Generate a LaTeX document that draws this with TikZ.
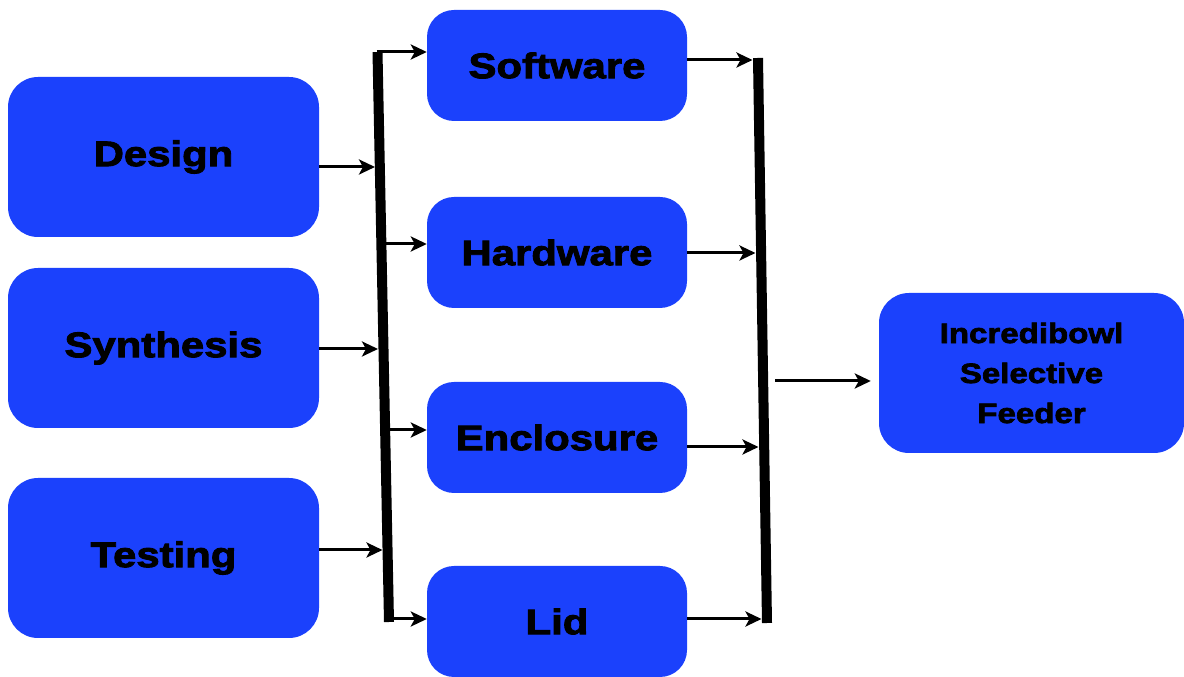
\documentclass[tikz,border=0pt]{standalone}
\usepackage{fontspec}
\setmainfont{Liberation Sans}
\newfontfamily\lblfont{Liberation Sans}[FakeStretch=1.18,BoldFeatures={FakeBold=2.5,FakeStretch=1.18}]
\usetikzlibrary{arrows.meta}
\definecolor{boxblue}{RGB}{27,65,252}
\tikzset{
  stage/.style={fill=boxblue, rounded corners=30, minimum width=311, minimum height=160,
    inner sep=0, font=\lblfont\bfseries\fontsize{35.5}{40}\selectfont},
  part/.style={fill=boxblue, rounded corners=27, minimum width=260, minimum height=111,
    inner sep=0, font=\lblfont\bfseries\fontsize{35.5}{40}\selectfont},
  result/.style={fill=boxblue, rounded corners=30, minimum width=305, minimum height=160,
    inner sep=0, align=center, font=\lblfont\bfseries\fontsize{28}{40}\selectfont},
  flow/.style={line width=3pt, -{Stealth[length=16pt,width=15pt,inset=4pt]}},
  bus/.style={line width=10pt}
}
\begin{document}
\begin{tikzpicture}[x=1pt,y=1pt]
\useasboundingbox (0,0) rectangle (1184,677);

% development stages
\node[stage] (d) at (163.5,520) {Design};
\node[stage] (s) at (163.5,329) {Synthesis};
\node[stage] (t) at (163.5,119) {Testing};

% subsystems
\node[part] (sw)  at (557,611.5) {Software};
\node[part] (hw)  at (557,424.5) {Hardware};
\node[part] (en)  at (557,239.5) {Enclosure};
\node[part] (lid) at (557,55.5)  {Lid};

% final product
\node[result] (out) at (1031.5,304) {Incredibowl\\Selective\\Feeder};

% left collector bar and its taps
\coordinate (lt) at (377.5,625);
\coordinate (lb) at (389,55);
\coordinate (l1) at (375,510);
\coordinate (l2) at (378,328);
\coordinate (l3) at (382.5,127);
\coordinate (o1) at (381.5,433);
\coordinate (o2) at (385,247);
\coordinate (o3) at (389,58);

% right collector bar and its taps
\coordinate (rt) at (758,619);
\coordinate (rb) at (767,54);
\coordinate (r1) at (752.5,617);
\coordinate (r2) at (755.5,424);
\coordinate (r3) at (758.5,230);
\coordinate (r4) at (761.5,58);
\coordinate (ro) at (775,296);

\draw[bus] (lt) -- (lb);
\draw[bus] (rt) -- (rb);

% stages into the left bar
\draw[flow] (d.east |- l1) -- (l1);
\draw[flow] (s.east |- l2) -- (l2);
\draw[flow] (t.east |- l3) -- (l3);

% left bar out to the subsystems
\draw[flow] ([xshift=-1]lt) -- (lt -| sw.west);
\draw[flow] (o1) -- (o1 -| hw.west);
\draw[flow] (o2) -- (o2 -| en.west);
\draw[flow] ([xshift=-1]o3) -- (o3 -| lid.west);

% subsystems into the right bar
\draw[flow] (sw.east |- r1) -- (r1);
\draw[flow] (hw.east |- r2) -- (r2);
\draw[flow] (en.east |- r3) -- (r3);
\draw[flow] (lid.east |- r4) -- (r4);

% right bar to the product
\draw[flow, shorten >=8] (ro) -- (ro -| out.west);
\end{tikzpicture}
\end{document}
